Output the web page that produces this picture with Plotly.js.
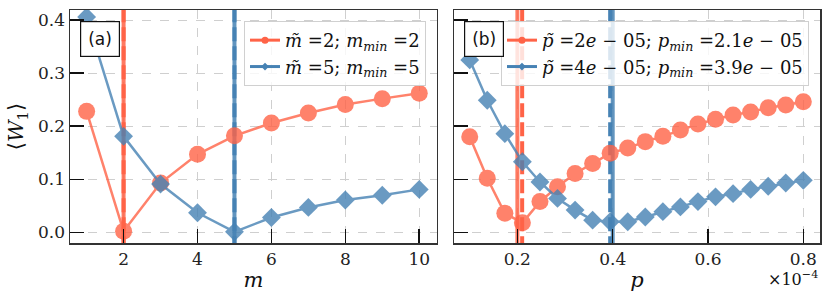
<!DOCTYPE html>
<html>
<head>
<meta charset="utf-8">
<script src="https://cdn.plot.ly/plotly-3.0.1.min.js"></script>
<style>
  html, body { margin: 0; padding: 0; background: #fff; }
  #plot { width: 831px; height: 303px; }
</style>
</head>
<body>
<div id="plot"></div>
<script>
// panel (a): scan over m
const mValues = [1, 2, 3, 4, 5, 6, 7, 8, 9, 10];
const wRedM = [0.228, 0.002, 0.093, 0.147, 0.182, 0.206, 0.225, 0.241, 0.252, 0.262];
const wBlueM = [0.406, 0.181, 0.091, 0.037, 0.001, 0.028, 0.047, 0.061, 0.070, 0.081];
const mTilde = [2, 5];
const mMin = [2, 5];
const legendM = ['<i>m&#771;</i> =2; <i>m</i><sub><i>min</i></sub> =2',
                 '<i>m&#771;</i> =5; <i>m</i><sub><i>min</i></sub> =5'];

// panel (b): scan over p, in units of 1e-4
const pValues = [0.1, 0.1368, 0.1737, 0.2105, 0.2474, 0.2842, 0.3211, 0.3579, 0.3947, 0.4316,
                 0.4684, 0.5053, 0.5421, 0.5789, 0.6158, 0.6526, 0.6895, 0.7263, 0.7632, 0.8];
const wRedP = [0.180, 0.102, 0.036, 0.018, 0.058, 0.086, 0.111, 0.130, 0.149, 0.159,
               0.171, 0.181, 0.193, 0.204, 0.213, 0.221, 0.227, 0.235, 0.240, 0.246];
const wBlueP = [0.325, 0.249, 0.186, 0.133, 0.095, 0.064, 0.042, 0.023, 0.020, 0.020,
                0.029, 0.039, 0.048, 0.058, 0.067, 0.073, 0.081, 0.087, 0.093, 0.098];
const pTilde = [0.2, 0.4];
const pMin = [0.21, 0.3947];
const legendP = ['<i>p&#771;</i> =2<i>e</i> &#8722; 05; <i>p</i><sub><i>min</i></sub> =2.1<i>e</i> &#8722; 05',
                 '<i>p&#771;</i> =4<i>e</i> &#8722; 05; <i>p</i><sub><i>min</i></sub> =3.9<i>e</i> &#8722; 05'];

const colors = ['#ff6347', '#4682b4'];
const symbols = ['circle', 'diamond'];
const sizes = [17, 14.5];
const serif = 'DejaVu Serif';

const traces = [];

function vlines(xs, dash, xa, ya, opacity) {
    xs.forEach((x, i) => {
        traces.push({
            x: [x, x], y: [-1, 1],
            xaxis: xa, yaxis: ya,
            mode: 'lines',
            line: { color: colors[i], width: 4, dash: dash },
            opacity: opacity,
            showlegend: false, hoverinfo: 'skip',
        });
    });
}

vlines(mTilde, 'solid', 'x', 'y', 0.85);
vlines(mMin, '14px,5px', 'x', 'y', 1);
vlines(pTilde, 'solid', 'x2', 'y2', 0.85);
vlines(pMin, '14px,5px', 'x2', 'y2', 1);

[[mValues, wRedM, wBlueM, 'x', 'y', legendM, 'legend'],
 [pValues, wRedP, wBlueP, 'x2', 'y2', legendP, 'legend2']].forEach(([xs, r, b, xa, ya, names, lg]) => {
    [r, b].forEach((ys, i) => {
        traces.push({
            x: xs, y: ys, xaxis: xa, yaxis: ya,
            mode: 'lines+markers',
            line: { color: colors[i], width: 2.5 },
            marker: { symbol: symbols[i], size: sizes[i], color: colors[i] },
            opacity: 0.8,
            showlegend: false,
        });
    });
    // legend-only entries with small markers
    names.forEach((name, i) => {
        traces.push({
            x: [null], y: [null], xaxis: xa, yaxis: ya,
            mode: 'lines+markers',
            name: name,
            legend: lg,
            line: { color: colors[i], width: 3 },
            marker: { symbol: symbols[i], size: i === 0 ? 7 : 6, color: colors[i] },
        });
    });
});

const axisCommon = {
    showline: true, mirror: true, linecolor: '#333', linewidth: 1.5,
    ticks: 'inside', ticklen: 14, tickwidth: 1.5, tickcolor: '#111',
    showgrid: true, gridcolor: '#cfcfcf', griddash: 'dash', gridwidth: 1,
    zeroline: false,
    tickfont: { family: serif, size: 17, color: '#222' },
};

const legendCommon = {
    bgcolor: 'rgba(255,255,255,0.8)',
    bordercolor: '#d0d0d0', borderwidth: 1,
    font: { family: serif, size: 18, color: '#111' },
    xanchor: 'right', yanchor: 'top',
    tracegroupgap: 0,
};

const titleFont = { family: serif, size: 21, color: '#111' };

Plotly.newPlot('plot', traces, {
    width: 831, height: 303,
    margin: { l: 70, r: 11, t: 10, b: 60 },
    paper_bgcolor: '#fff',
    plot_bgcolor: '#fff',
    font: { family: serif },
    xaxis: Object.assign({}, axisCommon, {
        domain: [0, 0.4893], range: [0.55, 10.48],
        tickvals: [2, 4, 6, 8, 10],
        title: { text: '<i>m</i>', font: titleFont, standoff: 4 },
    }),
    yaxis: Object.assign({}, axisCommon, {
        range: [-0.02, 0.419],
        tickvals: [0, 0.1, 0.2, 0.3, 0.4], ticktext: ['0.0', '0.1', '0.2', '0.3', '0.4'],
        title: { text: '&#10216;<i>W</i><sub>1</sub>&#10217;', font: titleFont, standoff: 8 },
    }),
    xaxis2: Object.assign({}, axisCommon, {
        domain: [0.512, 1], range: [0.067, 0.835], anchor: 'y2',
        tickvals: [0.2, 0.4, 0.6, 0.8],
        title: { text: '<i>p</i>', font: titleFont, standoff: 4 },
    }),
    yaxis2: Object.assign({}, axisCommon, {
        range: [-0.02, 0.419], anchor: 'x2', matches: 'y',
        tickvals: [0, 0.1, 0.2, 0.3, 0.4], showticklabels: false,
    }),
    legend: Object.assign({}, legendCommon, { x: 0.4747, y: 0.953 }),
    legend2: Object.assign({}, legendCommon, { x: 0.9853, y: 0.953 }),
    annotations: [
        { text: '(a)', xref: 'x domain', yref: 'y domain', x: 0.083, y: 0.8755,
          xanchor: 'center', yanchor: 'middle', showarrow: false,
          font: { family: 'DejaVu Sans', size: 17, color: '#111' },
          bgcolor: '#fff', bordercolor: '#111', borderwidth: 1.2, borderpad: 7 },
        { text: '(b)', xref: 'x2 domain', yref: 'y2 domain', x: 0.083, y: 0.8755,
          xanchor: 'center', yanchor: 'middle', showarrow: false,
          font: { family: 'DejaVu Sans', size: 17, color: '#111' },
          bgcolor: '#fff', bordercolor: '#111', borderwidth: 1.2, borderpad: 7 },
        { text: '&#215;10<sup>&#8722;4</sup>', xref: 'paper', yref: 'paper', x: 1, y: -0.1,
          xanchor: 'right', yanchor: 'top', showarrow: false,
          font: { family: serif, size: 16, color: '#111' } },
    ],
}, { staticPlot: true });
</script>
</body>
</html>
